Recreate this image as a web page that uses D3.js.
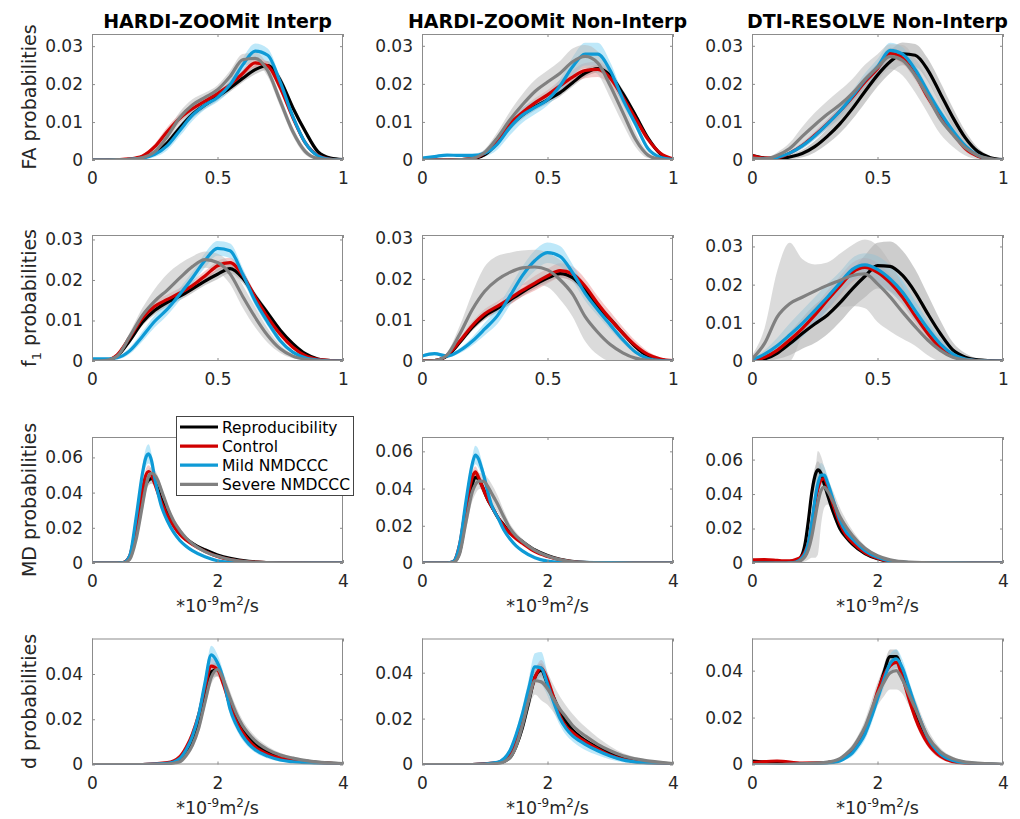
<!DOCTYPE html>
<html>
<head>
<meta charset="utf-8">
<script src="https://cdn.jsdelivr.net/npm/d3@7"></script>
<style>
  html, body { margin: 0; padding: 0; background: #fff; }
  svg { display: block; font-family: "DejaVu Sans", sans-serif; }
</style>
</head>
<body>
<svg id="chart" width="1020" height="819"></svg>
<script>
// ---- labels ----
const colTitles = ["HARDI-ZOOMit Interp", "HARDI-ZOOMit Non-Interp", "DTI-RESOLVE Non-Interp"]
const rowLabels = ["FA", "f1", "MD", "d"]
const seriesNames = ["Reproducibility", "Control", "Mild NMDCCC", "Severe NMDCCC"]

// ---- x grids (FA / f1 in [0,1], MD / d in 1e-9 m^2/s) ----
const faX = [0, 0.05, 0.1, 0.15, 0.2, 0.25, 0.3, 0.35, 0.4, 0.45, 0.5, 0.55, 0.6, 0.65, 0.7, 0.75, 0.8, 0.85, 0.9, 0.95, 1]
const mdX = [0, 0.2, 0.4, 0.5, 0.6, 0.7, 0.8, 0.85, 0.9, 0.95, 1.0, 1.05, 1.1, 1.15, 1.2, 1.3, 1.4, 1.5, 1.6, 1.8, 2.0, 2.2, 2.5, 3.0, 3.5, 4.0]
const dX = [0, 0.4, 0.8, 1.2, 1.4, 1.5, 1.6, 1.7, 1.8, 1.9, 2.0, 2.1, 2.2, 2.3, 2.4, 2.5, 2.6, 2.8, 3.0, 3.2, 3.5, 4.0]

// ---- ticks ----
const xTicksUnit = [0, 0.5, 1]
const xTicksDiff = [0, 2, 4]
const yTicksFA = [0, 0.01, 0.02, 0.03]
const yTicksMD = [0, 0.02, 0.04, 0.06]
const yTicksD = [0, 0.02, 0.04]
const yLimits = [
  [0.0332, 0.0331, 0.0331],
  [0.0311, 0.0307, 0.033],
  [0.0716, 0.0677, 0.0731],
  [0.0557, 0.0549, 0.0537]
]

// ---- series means, order: Reproducibility, Control, Mild, Severe ----
const faHardiInterp = [
  [0,0,0.0001,0.0002,0.0006,0.0018,0.0045,0.0085,0.012,0.0145,0.0167,0.019,0.0215,0.0238,0.0249,0.021,0.0138,0.0075,0.0022,0.0005,0.0001],
  [0,0,0.0001,0.0003,0.001,0.0035,0.0075,0.011,0.0135,0.0155,0.0175,0.0198,0.0228,0.0256,0.0248,0.019,0.0112,0.0045,0.0012,0.0002,0],
  [0,0,0.0001,0.0002,0.0005,0.0015,0.0038,0.0078,0.0118,0.0145,0.0165,0.0198,0.025,0.0287,0.0276,0.0205,0.0115,0.0045,0.0011,0.0002,0],
  [0,0,0.0001,0.0002,0.0006,0.0022,0.0062,0.0112,0.0145,0.0165,0.0185,0.022,0.0264,0.0268,0.0235,0.0155,0.0075,0.0022,0.0004,0.0001,0]
]
const faHardiNonInterp = [
  [0,0,0,0.0001,0.0003,0.0014,0.0045,0.0088,0.0118,0.014,0.0158,0.0177,0.0203,0.0228,0.024,0.0222,0.0175,0.0118,0.0058,0.0016,0.0002],
  [0,0,0,0.0001,0.0004,0.0018,0.005,0.0095,0.0125,0.015,0.0171,0.0195,0.0218,0.0235,0.0238,0.0215,0.0165,0.011,0.0055,0.0018,0.0003],
  [0.0005,0.0009,0.0013,0.0012,0.0012,0.0018,0.0042,0.0085,0.0118,0.0138,0.0158,0.0195,0.0245,0.0278,0.0278,0.0235,0.016,0.0095,0.003,0.0007,0.0001],
  [0,0,0,0.0001,0.0004,0.002,0.0058,0.0105,0.0145,0.018,0.0205,0.0228,0.0258,0.0272,0.0255,0.0195,0.0125,0.0055,0.0013,0.0002,0]
]
const faDtiResolve = [
  [0.0012,0.0005,0.0002,0.0008,0.0017,0.0035,0.0062,0.0095,0.0135,0.018,0.0223,0.0258,0.0279,0.0275,0.0237,0.0175,0.0112,0.0058,0.0022,0.0006,0.0001],
  [0.0012,0.0005,0.0006,0.0018,0.0038,0.0065,0.0095,0.0128,0.0165,0.0205,0.024,0.028,0.0268,0.0225,0.0165,0.0115,0.0072,0.003,0.001,0.0002,0],
  [0.0003,0.0003,0.0007,0.0018,0.0037,0.0063,0.0094,0.0128,0.0168,0.021,0.0245,0.0288,0.0278,0.0238,0.018,0.0125,0.0077,0.0037,0.0012,0.0002,0],
  [0.0005,0.0003,0.0012,0.003,0.0062,0.0092,0.012,0.0145,0.0175,0.0212,0.0243,0.0272,0.0262,0.0222,0.0168,0.0108,0.0067,0.0032,0.0012,0.0003,0]
]
const f1HardiInterp = [
  [0,0.0001,0.0012,0.005,0.0095,0.0125,0.0145,0.016,0.0178,0.0197,0.0214,0.0228,0.0205,0.016,0.0118,0.0076,0.0043,0.0018,0.0005,0.0001,0],
  [0,0.0001,0.0015,0.0058,0.0105,0.0135,0.0152,0.0168,0.0186,0.021,0.0235,0.0243,0.0212,0.0158,0.0108,0.0066,0.0034,0.0013,0.0004,0.0001,0],
  [0.0005,0.0005,0.0008,0.0025,0.006,0.0098,0.0128,0.0165,0.0205,0.0248,0.0278,0.0272,0.0215,0.0148,0.0096,0.005,0.0022,0.0008,0.0002,0,0],
  [0,0.0001,0.0012,0.006,0.0112,0.0148,0.0175,0.0205,0.0233,0.025,0.0243,0.0215,0.016,0.0108,0.0063,0.003,0.0012,0.0004,0.0001,0,0]
]
const f1HardiNonInterp = [
  [0,0.0001,0.0012,0.0045,0.0082,0.011,0.0128,0.0148,0.0168,0.0186,0.0202,0.0213,0.0203,0.0172,0.0132,0.0102,0.0068,0.0035,0.0012,0.0003,0],
  [0,0.0001,0.0014,0.0048,0.0086,0.0115,0.0133,0.0152,0.0172,0.019,0.0207,0.022,0.0212,0.0182,0.014,0.0102,0.0068,0.0038,0.0016,0.0005,0.0001],
  [0.0012,0.0018,0.0012,0.0025,0.0048,0.0078,0.011,0.0158,0.0208,0.0245,0.0264,0.0255,0.0215,0.0165,0.0125,0.0088,0.0052,0.0022,0.0006,0.0001,0],
  [0,0.0001,0.0015,0.0065,0.0125,0.017,0.0198,0.0216,0.0227,0.0229,0.0222,0.0198,0.0163,0.0108,0.007,0.004,0.002,0.0007,0.0002,0,0]
]
const f1DtiResolve = [
  [0,0.0005,0.002,0.0045,0.0072,0.0097,0.012,0.0152,0.0189,0.0222,0.025,0.0248,0.0224,0.018,0.0124,0.0072,0.0029,0.001,0.0003,0.0001,0],
  [0,0.001,0.0028,0.0055,0.0085,0.012,0.0159,0.0196,0.0232,0.0245,0.0232,0.0205,0.0167,0.0118,0.0072,0.0035,0.0014,0.0004,0.0001,0,0],
  [0.0003,0.0018,0.004,0.0068,0.0098,0.0132,0.0167,0.0204,0.024,0.0252,0.024,0.0215,0.018,0.0132,0.0085,0.0045,0.0018,0.0005,0.0001,0,0],
  [0.0005,0.0046,0.0115,0.015,0.0167,0.0183,0.0198,0.0211,0.0224,0.0228,0.0202,0.0168,0.0128,0.009,0.0055,0.0028,0.001,0.0003,0.0001,0,0]
]
const mdHardiInterp = [
  [0,0,0,0.0002,0.003,0.016,0.036,0.044,0.047,0.048,0.046,0.042,0.037,0.033,0.029,0.022,0.0172,0.0138,0.0112,0.0075,0.0046,0.0026,0.0009,0.0001,0,0],
  [0,0,0,0.0003,0.004,0.02,0.041,0.049,0.052,0.05,0.045,0.04,0.035,0.031,0.027,0.021,0.0162,0.013,0.0105,0.0066,0.0037,0.0019,0.0006,0.0001,0,0],
  [0,0,0,0.0002,0.004,0.025,0.05,0.059,0.062,0.058,0.048,0.04,0.033,0.028,0.024,0.0175,0.0128,0.0095,0.007,0.0035,0.0013,0.0005,0.0001,0,0,0],
  [0,0,0,0.0001,0.002,0.013,0.032,0.042,0.049,0.051,0.05,0.047,0.042,0.037,0.032,0.024,0.0185,0.0142,0.011,0.0065,0.0038,0.002,0.0006,0.0001,0,0]
]
const mdHardiNonInterp = [
  [0,0,0,0.0004,0.006,0.025,0.042,0.046,0.045,0.042,0.038,0.034,0.031,0.028,0.025,0.0205,0.0165,0.014,0.0115,0.007,0.004,0.002,0.0005,0,0,0],
  [0,0,0,0.0008,0.01,0.03,0.046,0.049,0.046,0.042,0.0377,0.034,0.031,0.028,0.025,0.02,0.016,0.013,0.0106,0.0061,0.0035,0.0017,0.0004,0,0,0],
  [0,0,0,0.0008,0.01,0.033,0.053,0.058,0.056,0.051,0.045,0.038,0.032,0.028,0.025,0.018,0.013,0.0092,0.0065,0.0028,0.001,0.0004,0.0003,0.0002,0,0],
  [0,0,0,0.0003,0.005,0.022,0.038,0.042,0.044,0.044,0.0435,0.041,0.038,0.035,0.032,0.025,0.0187,0.0145,0.0115,0.0068,0.0038,0.0018,0.0004,0,0,0]
]
const mdDtiResolve = [
  [0.0015,0.0003,0.0002,0.0002,0.0003,0.001,0.005,0.012,0.025,0.04,0.05,0.054,0.052,0.046,0.04,0.029,0.02,0.015,0.011,0.0055,0.0025,0.001,0.0002,0,0,0],
  [0.0018,0.002,0.0015,0.0012,0.0012,0.002,0.004,0.007,0.012,0.022,0.034,0.043,0.048,0.049,0.045,0.033,0.023,0.016,0.012,0.006,0.0028,0.001,0.0002,0,0,0],
  [0,0,0,0,0.0001,0.0005,0.003,0.006,0.012,0.023,0.036,0.046,0.051,0.051,0.047,0.036,0.025,0.018,0.014,0.0072,0.0033,0.0012,0.0003,0.0001,0,0],
  [0,0,0,0,0.0001,0.0003,0.002,0.004,0.008,0.015,0.025,0.035,0.042,0.044,0.042,0.035,0.027,0.021,0.016,0.0085,0.0042,0.0018,0.0005,0.0001,0,0]
]
const dHardiInterp = [
  [0,0,0,0.0003,0.0018,0.005,0.01,0.018,0.03,0.041,0.042,0.036,0.028,0.021,0.0158,0.0122,0.0093,0.0056,0.0035,0.0023,0.0012,0.0003],
  [0,0,0,0.0008,0.0035,0.0075,0.0135,0.022,0.034,0.0435,0.042,0.035,0.026,0.019,0.0142,0.0105,0.0078,0.0046,0.0028,0.0018,0.0009,0.0002],
  [0,0,0,0.0005,0.0027,0.0065,0.0125,0.022,0.036,0.0485,0.045,0.037,0.0245,0.0175,0.0125,0.009,0.0065,0.0037,0.002,0.0012,0.0006,0.0002],
  [0,0,0,0.0002,0.0012,0.004,0.0085,0.016,0.0275,0.0385,0.042,0.037,0.0295,0.0225,0.0172,0.0135,0.0105,0.0066,0.0042,0.0028,0.0014,0.0004]
]
const dHardiNonInterp = [
  [0,0,0,0.0005,0.003,0.008,0.016,0.027,0.038,0.041,0.035,0.029,0.023,0.0185,0.015,0.0125,0.0105,0.0075,0.005,0.0032,0.0015,0.0003],
  [0,0,0,0.0008,0.005,0.011,0.019,0.029,0.038,0.042,0.037,0.029,0.021,0.0165,0.014,0.0118,0.01,0.0068,0.004,0.0023,0.001,0.0002],
  [0,0,0,0.001,0.006,0.013,0.022,0.033,0.0425,0.042,0.035,0.027,0.02,0.0155,0.0125,0.0105,0.0088,0.006,0.0037,0.002,0.0008,0.0001],
  [0,0,0,0.0004,0.003,0.008,0.017,0.028,0.0365,0.036,0.033,0.0285,0.024,0.0205,0.017,0.0145,0.0125,0.0088,0.006,0.0038,0.002,0.0004]
]
const dDtiResolve = [
  [0.0015,0.0006,0.0003,0.0008,0.002,0.0035,0.006,0.0095,0.014,0.021,0.03,0.039,0.046,0.046,0.039,0.03,0.022,0.01,0.0042,0.0016,0.0004,0],
  [0.0008,0.0015,0.0006,0.0008,0.002,0.0035,0.006,0.0098,0.015,0.022,0.031,0.038,0.042,0.0435,0.037,0.028,0.02,0.009,0.0035,0.0012,0.0003,0],
  [0,0,0.0002,0.0006,0.0015,0.003,0.005,0.0085,0.013,0.02,0.028,0.036,0.043,0.045,0.041,0.033,0.025,0.0115,0.0045,0.0017,0.0005,0],
  [0,0,0.0003,0.001,0.0025,0.0045,0.007,0.011,0.016,0.023,0.03,0.035,0.039,0.04,0.036,0.03,0.024,0.012,0.0055,0.0025,0.0008,0.0001]
]

// ---- band half-widths (shaded spread round each mean) ----
const faHardiInterpSpread = [
  [0,0,0,0,0.0002,0.0005,0.0008,0.001,0.001,0.001,0.001,0.001,0.001,0.0012,0.0012,0.0012,0.001,0.0008,0.0004,0.0001,0],
  [0,0,0,0.0001,0.0004,0.0008,0.0012,0.0012,0.001,0.001,0.0008,0.0008,0.001,0.0012,0.0012,0.001,0.0008,0.0005,0.0002,0,0],
  [0,0,0,0,0.0003,0.0007,0.0012,0.0015,0.0015,0.0012,0.0012,0.0015,0.0018,0.002,0.0018,0.0012,0.001,0.0006,0.0002,0,0],
  [0,0,0,0.0001,0.0004,0.0008,0.0012,0.0015,0.0015,0.0012,0.0012,0.0015,0.0015,0.0015,0.0015,0.0015,0.0012,0.0008,0.0003,0,0]
]
const faHardiNonInterpSpread = [
  [0,0,0,0,0.0002,0.0005,0.0008,0.001,0.001,0.001,0.001,0.001,0.001,0.001,0.001,0.001,0.001,0.0008,0.0005,0.0002,0],
  [0,0,0,0,0.0003,0.0006,0.001,0.0012,0.0012,0.0012,0.0012,0.0015,0.0018,0.002,0.002,0.0018,0.0015,0.0012,0.0008,0.0003,0],
  [0.0003,0.0003,0.0003,0.0003,0.0004,0.0008,0.0015,0.002,0.002,0.0018,0.0015,0.0018,0.0025,0.003,0.003,0.0022,0.0015,0.001,0.0005,0.0002,0],
  [0,0,0,0,0.0003,0.0008,0.0015,0.0022,0.0028,0.003,0.003,0.0032,0.0035,0.003,0.003,0.0032,0.003,0.002,0.0008,0.0002,0]
]
const faDtiResolveSpread = [
  [0.0005,0.0003,0.0003,0.0006,0.001,0.0015,0.002,0.0025,0.0028,0.003,0.003,0.003,0.003,0.003,0.003,0.003,0.0025,0.0018,0.001,0.0004,0.0001],
  [0.0003,0.0002,0.0003,0.0005,0.0008,0.001,0.0012,0.0012,0.0012,0.0015,0.0015,0.0015,0.0015,0.0015,0.0012,0.0012,0.001,0.0008,0.0004,0.0001,0],
  [0.0002,0.0002,0.0003,0.0005,0.0008,0.001,0.0012,0.0015,0.0015,0.0018,0.002,0.002,0.0018,0.0015,0.0012,0.0012,0.001,0.0008,0.0004,0.0001,0],
  [0.0003,0.0003,0.0008,0.0015,0.0025,0.0032,0.0035,0.0038,0.0038,0.0038,0.0035,0.0032,0.004,0.0045,0.0045,0.004,0.0032,0.002,0.001,0.0003,0]
]
const f1HardiInterpSpread = [
  [0,0,0.0003,0.0006,0.0008,0.001,0.001,0.001,0.001,0.001,0.0012,0.0012,0.0012,0.001,0.0008,0.0006,0.0004,0.0002,0,0,0],
  [0,0,0.0004,0.0008,0.001,0.0012,0.0012,0.0012,0.0012,0.0012,0.0012,0.0012,0.0012,0.001,0.0008,0.0006,0.0003,0.0001,0,0,0],
  [0.0002,0.0002,0.0004,0.0008,0.0012,0.0015,0.0015,0.0015,0.0015,0.0018,0.0018,0.0018,0.0015,0.0012,0.001,0.0008,0.0004,0.0002,0,0,0],
  [0,0,0.0004,0.001,0.0018,0.003,0.004,0.0035,0.0025,0.002,0.0022,0.0025,0.0028,0.0025,0.0018,0.001,0.0005,0.0002,0,0,0]
]
const f1HardiNonInterpSpread = [
  [0,0,0.0003,0.0006,0.0008,0.001,0.001,0.001,0.001,0.001,0.001,0.001,0.001,0.001,0.001,0.0008,0.0006,0.0004,0.0002,0,0],
  [0,0,0.0004,0.0008,0.001,0.0012,0.0012,0.0015,0.0015,0.0018,0.0018,0.0018,0.0018,0.0018,0.0018,0.0018,0.0015,0.0012,0.0008,0.0004,0.0002],
  [0.0004,0.0004,0.0004,0.0006,0.001,0.0015,0.002,0.0022,0.0022,0.0025,0.0025,0.0025,0.002,0.0018,0.0015,0.0012,0.0008,0.0004,0.0002,0,0],
  [0,0,0.0006,0.002,0.004,0.006,0.0058,0.0048,0.0042,0.0042,0.0042,0.0048,0.0055,0.006,0.0055,0.0042,0.0028,0.0015,0.0006,0.0001,0]
]
const f1DtiResolveSpread = [
  [0,0.0005,0.0015,0.003,0.004,0.005,0.005,0.005,0.005,0.0055,0.006,0.0065,0.0065,0.006,0.005,0.0035,0.002,0.001,0.0003,0,0],
  [0,0.0005,0.001,0.0015,0.002,0.0022,0.0025,0.0025,0.0025,0.0025,0.0025,0.0022,0.002,0.0018,0.0015,0.001,0.0006,0.0003,0,0,0],
  [0.0003,0.001,0.002,0.003,0.0035,0.0035,0.0035,0.003,0.003,0.003,0.0035,0.0035,0.003,0.0025,0.002,0.0015,0.001,0.0004,0,0,0],
  [0.001,0.004,0.012,0.016,0.01,0.007,0.006,0.007,0.008,0.009,0.01,0.009,0.007,0.005,0.004,0.003,0.002,0.001,0,0,0]
]
const mdHardiInterpSpread = [
  [0,0,0,0.0002,0.001,0.002,0.003,0.003,0.003,0.003,0.0025,0.002,0.002,0.0015,0.0015,0.0012,0.001,0.001,0.0008,0.0006,0.0004,0.0002,0,0,0,0],
  [0,0,0,0.0003,0.0012,0.0025,0.003,0.0035,0.0035,0.003,0.0025,0.002,0.0018,0.0015,0.0015,0.0012,0.001,0.001,0.0008,0.0006,0.0004,0.0002,0,0,0,0],
  [0,0,0,0.0002,0.0015,0.003,0.004,0.005,0.0055,0.004,0.003,0.0022,0.002,0.0015,0.0015,0.0012,0.001,0.001,0.0008,0.0005,0.0003,0.0001,0,0,0,0],
  [0,0,0,0.0002,0.0012,0.0025,0.0035,0.004,0.004,0.0035,0.003,0.0025,0.0022,0.002,0.0018,0.0015,0.0012,0.001,0.0008,0.0006,0.0004,0.0002,0,0,0,0]
]
const mdHardiNonInterpSpread = [
  [0,0,0,0.0002,0.001,0.002,0.003,0.003,0.003,0.003,0.0025,0.002,0.002,0.0015,0.0015,0.0012,0.001,0.001,0.0008,0.0006,0.0004,0.0002,0,0,0,0],
  [0,0,0,0.0005,0.002,0.003,0.003,0.003,0.003,0.0025,0.002,0.002,0.0018,0.0015,0.0015,0.0012,0.001,0.001,0.0008,0.0006,0.0004,0.0002,0,0,0,0],
  [0,0,0,0.0005,0.002,0.003,0.004,0.005,0.005,0.004,0.003,0.0025,0.002,0.0018,0.0015,0.0012,0.001,0.001,0.0008,0.0005,0.0003,0.0002,0.0002,0.0002,0,0],
  [0,0,0,0.0003,0.002,0.004,0.005,0.005,0.0045,0.004,0.004,0.0045,0.005,0.005,0.0045,0.0035,0.0025,0.002,0.0015,0.001,0.0006,0.0003,0,0,0,0]
]
const mdDtiResolveSpread = [
  [0.0005,0.0002,0.0001,0.0001,0.0002,0.0005,0.002,0.003,0.004,0.005,0.005,0.005,0.004,0.0035,0.003,0.0025,0.002,0.0015,0.0012,0.0008,0.0005,0.0002,0,0,0,0],
  [0.0006,0.0006,0.0005,0.0004,0.0004,0.0006,0.0012,0.0018,0.0025,0.003,0.003,0.003,0.003,0.0025,0.0022,0.002,0.0015,0.0012,0.001,0.0006,0.0004,0.0002,0,0,0,0],
  [0,0,0,0,0.0001,0.0003,0.001,0.002,0.003,0.005,0.007,0.008,0.007,0.005,0.004,0.003,0.0025,0.002,0.0015,0.001,0.0006,0.0003,0,0,0,0],
  [0,0,0,0,0.0001,0.0003,0.0015,0.003,0.006,0.012,0.022,0.03,0.02,0.012,0.008,0.006,0.005,0.004,0.003,0.0015,0.0008,0.0003,0.0001,0,0,0]
]
const dHardiInterpSpread = [
  [0,0,0,0.0002,0.0008,0.0012,0.0015,0.002,0.0025,0.003,0.003,0.0025,0.002,0.0018,0.0015,0.0012,0.001,0.0008,0.0006,0.0004,0.0002,0.0001],
  [0,0,0,0.0003,0.001,0.0015,0.002,0.0025,0.003,0.0035,0.003,0.0025,0.002,0.0018,0.0015,0.0012,0.001,0.0008,0.0006,0.0004,0.0002,0.0001],
  [0,0,0,0.0002,0.001,0.0015,0.002,0.0025,0.003,0.004,0.0035,0.003,0.0025,0.002,0.0018,0.0015,0.0012,0.001,0.0007,0.0005,0.0003,0.0001],
  [0,0,0,0.0002,0.0008,0.0012,0.0015,0.002,0.0025,0.003,0.003,0.003,0.003,0.0028,0.0025,0.0022,0.002,0.0015,0.001,0.0007,0.0004,0.0001]
]
const dHardiNonInterpSpread = [
  [0,0,0,0.0003,0.001,0.0015,0.002,0.0025,0.003,0.003,0.003,0.0025,0.002,0.0018,0.0015,0.0015,0.0012,0.001,0.0008,0.0006,0.0003,0.0001],
  [0,0,0,0.0004,0.0015,0.002,0.0025,0.003,0.003,0.0035,0.003,0.0025,0.002,0.0018,0.0015,0.0015,0.0012,0.001,0.0008,0.0006,0.0003,0.0001],
  [0,0,0,0.0004,0.0015,0.002,0.003,0.004,0.006,0.007,0.005,0.004,0.003,0.0028,0.0025,0.0025,0.0025,0.002,0.0015,0.001,0.0005,0.0001],
  [0,0,0,0.0003,0.0012,0.002,0.003,0.004,0.006,0.008,0.007,0.006,0.0055,0.005,0.005,0.0045,0.004,0.003,0.002,0.0012,0.0006,0.0002]
]
const dDtiResolveSpread = [
  [0.0005,0.0003,0.0002,0.0003,0.0006,0.001,0.0015,0.002,0.0025,0.003,0.003,0.003,0.003,0.003,0.003,0.0025,0.002,0.0015,0.001,0.0005,0.0002,0],
  [0.0005,0.0005,0.0003,0.0003,0.0006,0.001,0.0015,0.002,0.0025,0.003,0.003,0.003,0.0025,0.0025,0.0025,0.002,0.002,0.0015,0.001,0.0005,0.0002,0],
  [0,0,0.0001,0.0002,0.0005,0.001,0.0015,0.002,0.0025,0.003,0.003,0.0035,0.004,0.004,0.0035,0.003,0.0025,0.002,0.0012,0.0006,0.0002,0],
  [0,0,0.0001,0.0003,0.0006,0.001,0.0015,0.002,0.003,0.004,0.005,0.006,0.007,0.008,0.006,0.005,0.004,0.003,0.0015,0.0008,0.0003,0]
]

// ---- styling ----
const lineColors = ["#000000", "#d00000", "#0e9ad6", "#808080"]
const bandColors = ["#5a5a5a", "#e06666", "#6fcdf2", "#b8b8b8"]
const bandAlpha = [0.3, 0.35, 0.45, 0.5]

const colLeft = [92, 422, 752]
const rowTop = [34, 235, 437, 638.5]
const plotW = 251
const plotH = 126

// panel table built from the arrays above
const panels = [
  { r: 0, c: 0, xs: faX, means: faHardiInterp, spread: faHardiInterpSpread },
  { r: 0, c: 1, xs: faX, means: faHardiNonInterp, spread: faHardiNonInterpSpread },
  { r: 0, c: 2, xs: faX, means: faDtiResolve, spread: faDtiResolveSpread },
  { r: 1, c: 0, xs: faX, means: f1HardiInterp, spread: f1HardiInterpSpread },
  { r: 1, c: 1, xs: faX, means: f1HardiNonInterp, spread: f1HardiNonInterpSpread },
  { r: 1, c: 2, xs: faX, means: f1DtiResolve, spread: f1DtiResolveSpread },
  { r: 2, c: 0, xs: mdX, means: mdHardiInterp, spread: mdHardiInterpSpread },
  { r: 2, c: 1, xs: mdX, means: mdHardiNonInterp, spread: mdHardiNonInterpSpread },
  { r: 2, c: 2, xs: mdX, means: mdDtiResolve, spread: mdDtiResolveSpread },
  { r: 3, c: 0, xs: dX, means: dHardiInterp, spread: dHardiInterpSpread },
  { r: 3, c: 1, xs: dX, means: dHardiNonInterp, spread: dHardiNonInterpSpread },
  { r: 3, c: 2, xs: dX, means: dDtiResolve, spread: dDtiResolveSpread }
]

const svg = d3.select("#chart")
const defs = svg.append("defs")
const tickFmt = d => d === 0 ? "0" : String(d)

panels.forEach((p, i) => {
  const x0 = colLeft[p.c], y0 = rowTop[p.r]
  const xMax = p.r < 2 ? 1 : 4
  const xTicks = p.r < 2 ? xTicksUnit : xTicksDiff
  const yTicks = p.r < 2 ? yTicksFA : (p.r === 2 ? yTicksMD : yTicksD)

  const x = d3.scaleLinear().domain([0, xMax]).range([x0, x0 + plotW])
  const y = d3.scaleLinear().domain([0, yLimits[p.r][p.c]]).range([y0 + plotH, y0])

  defs.append("clipPath").attr("id", "clip" + i)
    .append("rect").attr("x", x0).attr("y", y0).attr("width", plotW).attr("height", plotH)

  const g = svg.append("g")
  const plot = g.append("g").attr("clip-path", "url(#clip" + i + ")")

  //shaded spreads first, then the mean lines on top
  p.means.forEach((m, s) => {
    const pts = p.xs.map((xv, k) => ({ x: xv, lo: Math.max(0, m[k] - p.spread[s][k]), hi: m[k] + p.spread[s][k] }))
    const area = d3.area().curve(d3.curveMonotoneX)
      .x(d => x(d.x)).y0(d => y(d.lo)).y1(d => y(d.hi))
    plot.append("path").datum(pts)
      .attr("d", area)
      .attr("fill", bandColors[s])
      .attr("fill-opacity", bandAlpha[s])
  })
  p.means.forEach((m, s) => {
    const line = d3.line().curve(d3.curveMonotoneX)
      .x((d, k) => x(p.xs[k])).y(d => y(d))
    plot.append("path").datum(m)
      .attr("d", line)
      .attr("fill", "none")
      .attr("stroke", lineColors[s])
      .attr("stroke-width", 3.2)
      .attr("stroke-linejoin", "round")
  })

  // axes: labels on left / bottom, inward ticks on all four sides
  const axB = g.append("g").attr("transform", "translate(0," + (y0 + plotH) + ")")
    .call(d3.axisBottom(x).tickValues(xTicks).tickFormat(tickFmt).tickSizeInner(-3).tickSizeOuter(0).tickPadding(12))
  const axL = g.append("g").attr("transform", "translate(" + x0 + ",0)")
    .call(d3.axisLeft(y).tickValues(yTicks).tickFormat(tickFmt).tickSizeInner(-3).tickSizeOuter(0).tickPadding(9))
  const axT = g.append("g").attr("transform", "translate(0," + y0 + ")")
    .call(d3.axisTop(x).tickValues(xTicks).tickFormat("").tickSizeInner(-3).tickSizeOuter(0))
  const axR = g.append("g").attr("transform", "translate(" + (x0 + plotW) + ",0)")
    .call(d3.axisRight(y).tickValues(yTicks).tickFormat("").tickSizeInner(-3).tickSizeOuter(0))
  ;[axB, axL, axT, axR].forEach(a => {
    a.select(".domain").remove()
    a.selectAll("line").attr("stroke", "#8c8c8c")
    a.selectAll("text").attr("fill", "#262626").style("font-size", "17px").attr("font-family", "DejaVu Sans")
  })

  g.append("rect")
    .attr("x", x0 + 0.5).attr("y", y0 + 0.5)
    .attr("width", plotW - 1).attr("height", plotH - 1)
    .attr("fill", "none").attr("stroke", "#8c8c8c").attr("stroke-width", 1)

  // x label for the diffusivity rows
  if (p.r >= 2) {
    const t = g.append("text")
      .attr("x", x0 + plotW / 2).attr("y", y0 + plotH + 49)
      .attr("text-anchor", "middle").attr("fill", "#262626").style("font-size", "17.5px")
    t.append("tspan").text("*10")
    t.append("tspan").attr("dy", -7).style("font-size", "12px").text("-9")
    t.append("tspan").attr("dy", 7).text("m")
    t.append("tspan").attr("dy", -7).style("font-size", "12px").text("2")
    t.append("tspan").attr("dy", 7).text("/s")
  }
})

// column titles
colTitles.forEach((t, c) => {
  svg.append("text")
    .attr("x", colLeft[c] + plotW / 2).attr("y", 28)
    .attr("text-anchor", "middle")
    .attr("font-weight", "bold").style("font-size", "19px").attr("fill", "#000")
    .text(t)
})

// row labels (rotated)
rowLabels.forEach((lab, r) => {
  const cy = rowTop[r] + plotH / 2
  const t = svg.append("text")
    .attr("transform", "translate(36," + cy + ") rotate(-90)")
    .attr("text-anchor", "middle").attr("fill", "#262626").style("font-size", "19px")
  if (lab === "f1") {
    t.append("tspan").text("f")
    t.append("tspan").attr("dy", 5).style("font-size", "13px").text("1")
    t.append("tspan").attr("dy", -5).text(" probabilities")
  } else {
    t.text(lab + " probabilities")
  }
})

// legend
const leg = svg.append("g")
leg.append("rect")
  .attr("x", 176.5).attr("y", 416.5).attr("width", 177).attr("height", 79)
  .attr("fill", "#fff").attr("stroke", "#444").attr("stroke-width", 1)
seriesNames.forEach((name, s) => {
  const ly = 427 + s * 19.1
  leg.append("line")
    .attr("x1", 180).attr("x2", 218).attr("y1", ly).attr("y2", ly)
    .attr("stroke", lineColors[s]).attr("stroke-width", 3.2)
  leg.append("text")
    .attr("x", 222).attr("y", ly + 5.5)
    .attr("fill", "#000").style("font-size", "15.5px")
    .text(name)
})
</script>
</body>
</html>
